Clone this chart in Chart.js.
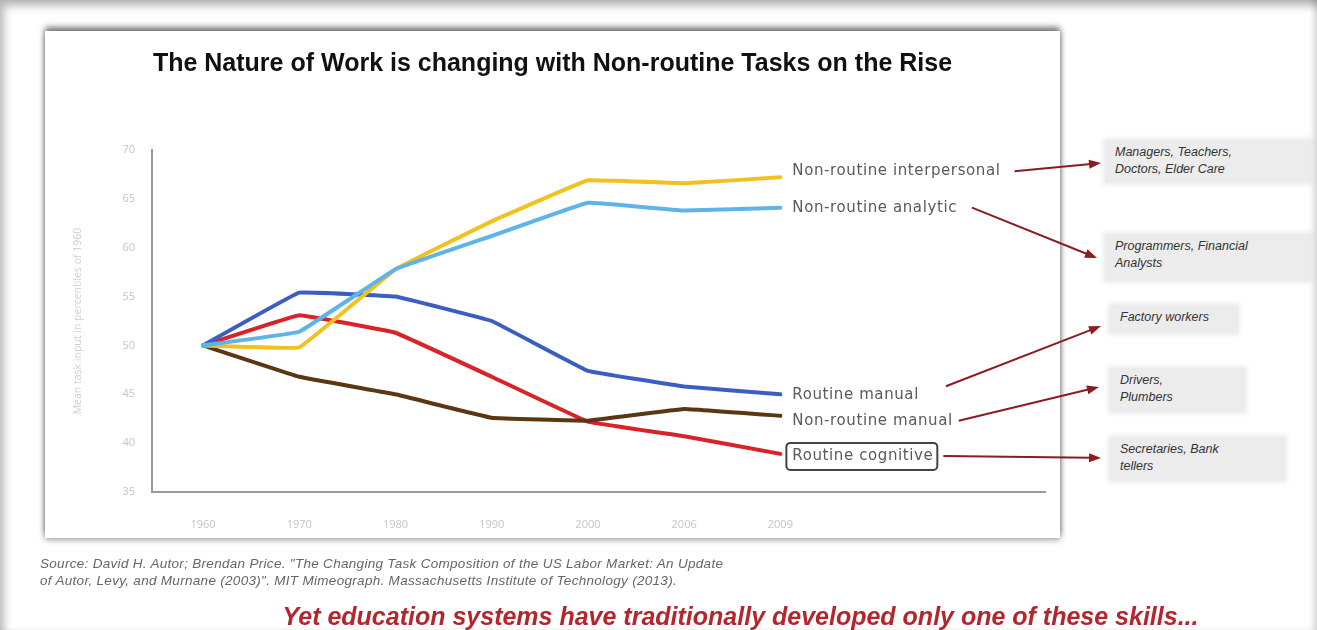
<!DOCTYPE html>
<html>
<head>
<meta charset="utf-8">
<script src="https://cdn.jsdelivr.net/npm/chart.js@4.4.0/dist/chart.umd.min.js"></script>
<style>
  html, body { margin: 0; padding: 0; background: #fff; }
  #page { position: relative; width: 1317px; height: 630px; overflow: hidden; background: #fff; }
  #frame { position: absolute; left: 0; top: 0; right: 0; bottom: 0; box-shadow: inset 6px 8px 8px -2px rgba(0,0,0,0.28), inset -5px 0 6px -2px rgba(0,0,0,0.18); z-index: 5; pointer-events: none; }
  #card { position: absolute; left: 45px; top: 31px; width: 1015px; height: 507px; background: #fff; box-shadow: 0 -4px 6px rgba(0,0,0,0.5), 0 2px 6px rgba(0,0,0,0.35); }
  #chart { position: absolute; left: 0; top: 0; z-index: 2; }
  .title { position: absolute; left: 45px; width: 1015px; top: 48px; text-align: center; z-index: 3;
    font: bold 25px "Liberation Sans", Arial, sans-serif; color: #111; }
  .job { position: absolute; background: #ececec; box-shadow: 0 0 5px 2px #ececec; z-index: 1;
    font: italic 12.5px "Liberation Sans", Arial, sans-serif; color: #333; line-height: 17px; padding: 4px 10px; box-sizing: border-box; }
  .source { position: absolute; left: 40px; top: 555px; z-index: 3;
    font: italic 13.5px "Liberation Sans", Arial, sans-serif; color: #666; line-height: 17px; letter-spacing: 0.3px; }
  .tagline { position: absolute; width: 1317px; text-align: center; left: 82px; top: 602px; z-index: 3;
    font: bold italic 25px "Liberation Sans", Arial, sans-serif; color: #b3262d; }
</style>
</head>
<body>
<div id="page">
  <div id="card"></div>
  <div class="title">The Nature of Work is changing with Non-routine Tasks on the Rise</div>
  <div class="job" style="left:1105px; top:140px; width:205px; height:43px;">Managers, Teachers,<br>Doctors, Elder Care</div>
  <div class="job" style="left:1105px; top:234px; width:205px; height:47px;">Programmers, Financial<br>Analysts</div>
  <div class="job" style="left:1110px; top:305px; width:128px; height:28px;">Factory workers</div>
  <div class="job" style="left:1110px; top:368px; width:135px; height:44px;">Drivers,<br>Plumbers</div>
  <div class="job" style="left:1110px; top:437px; width:175px; height:44px;">Secretaries, Bank<br>tellers</div>
  <canvas id="chart" width="1317" height="630"></canvas>
  <div class="source">Source: David H. Autor; Brendan Price. "The Changing Task Composition of the US Labor Market: An Update<br>of Autor, Levy, and Murnane (2003)". MIT Mimeograph. Massachusetts Institute of Technology (2013).</div>
  <div class="tagline">Yet education systems have traditionally developed only one of these skills...</div>
  <div id="frame"></div>
</div>
<script>
const years = ['1960', '1970', '1980', '1990', '2000', '2006', '2009'];
const yTicks = [35, 40, 45, 50, 55, 60, 65, 70];

const nonRoutineAnalytic = [50, 51.4, 57.8, 61.2, 64.6, 63.8, 64.1];
const nonRoutineInterpersonal = [50, 49.8, 57.8, 62.7, 66.9, 66.6, 67.2];
const routineManual = [50, 55.4, 55.0, 52.5, 47.4, 45.8, 45.0];
const nonRoutineManual = [50, 46.8, 45.0, 42.6, 42.3, 43.5, 42.8];
const routineCognitive = [50, 53.1, 51.3, 46.8, 42.2, 40.7, 38.9];

const toPoints = arr => arr.map((v, i) => ({ x: i, y: v }));

// label nudges (px), gap before each arrow and arrow targets at the job boxes
const labelNudge = [0, -6, 1, 5, 2];
const arrowGap = [15, 14, 27, 6, 10];
const arrowTargets = [
  { dy: 0, x: 1097, y: 258 },
  { dy: 0, x: 1101, y: 163 },
  { dy: -9, x: 1101, y: 326 },
  { dy: 0, x: 1099, y: 387 },
  { dy: 0, x: 1101, y: 458 }
];

const endLabels = {
  id: 'endLabels',
  afterDatasetsDraw(chart) {
    const ctx = chart.ctx;
    ctx.save();
    ctx.font = '15px "DejaVu Sans", sans-serif';
    ctx.letterSpacing = '0.6px';
    ctx.textBaseline = 'middle';
    chart.data.datasets.forEach((ds, i) => {
      const meta = chart.getDatasetMeta(i);
      const pt = meta.data[meta.data.length - 1];
      const x = pt.x + 12;
      const y = pt.y + labelNudge[i];
      const w = ctx.measureText(ds.label).width;
      ctx.fillStyle = '#5a5a5a';
      ctx.fillText(ds.label, x, y);
      if (ds.boxed) {
        ctx.strokeStyle = '#444';
        ctx.lineWidth = 2;
        ctx.beginPath();
        ctx.roundRect(x - 6, y - 13, w + 10, 27, 4);
        ctx.stroke();
      }
      // arrow to the job box
      const t = arrowTargets[i];
      const sx = x + w + arrowGap[i];
      const sy = y + t.dy;
      const ang = Math.atan2(t.y - sy, t.x - sx);
      ctx.strokeStyle = '#8a1c22';
      ctx.fillStyle = '#8a1c22';
      ctx.lineWidth = 2;
      ctx.beginPath();
      ctx.moveTo(sx, sy);
      ctx.lineTo(t.x - 10 * Math.cos(ang), t.y - 10 * Math.sin(ang));
      ctx.stroke();
      ctx.beginPath();
      ctx.moveTo(t.x, t.y);
      ctx.lineTo(t.x - 12 * Math.cos(ang) + 4.5 * Math.sin(ang), t.y - 12 * Math.sin(ang) - 4.5 * Math.cos(ang));
      ctx.lineTo(t.x - 12 * Math.cos(ang) - 4.5 * Math.sin(ang), t.y - 12 * Math.sin(ang) + 4.5 * Math.cos(ang));
      ctx.closePath();
      ctx.fill();
    });
    ctx.restore();
  }
};

const ctx = document.getElementById('chart').getContext('2d');
const workChart = new Chart(ctx, {
  type: 'line',
  data: {
    datasets: [{
      label: 'Non-routine analytic',
      data: toPoints(nonRoutineAnalytic),
      borderColor: '#5db4ea'
    }, {
      label: 'Non-routine interpersonal',
      data: toPoints(nonRoutineInterpersonal),
      borderColor: '#f1c21f'
    }, {
      label: 'Routine manual',
      data: toPoints(routineManual),
      borderColor: '#3b5fc0'
    }, {
      label: 'Non-routine manual',
      data: toPoints(nonRoutineManual),
      borderColor: '#5b3612'
    }, {
      label: 'Routine cognitive',
      data: toPoints(routineCognitive),
      borderColor: '#d8232a',
      boxed: true
    }]
  },
  options: {
    responsive: false,
    animation: false,
    layout: {
      padding: { left: 72, right: 272, top: 150, bottom: 93 }
    },
    elements: {
      line: { borderWidth: 4, tension: 0.05, borderJoinStyle: 'round', borderCapStyle: 'round' },
      point: { radius: 0 }
    },
    plugins: {
      legend: { display: false },
      tooltip: { enabled: false }
    },
    scales: {
      x: {
        type: 'linear',
        min: -0.53,
        max: 8.75,
        afterFit(scale) { scale.height = 45; },
        afterBuildTicks(scale) { scale.ticks = years.map((y, i) => ({ value: i })); },
        grid: { display: false },
        border: { display: true, color: '#9a9a9a', width: 2 },
        ticks: {
          color: '#c4c4c4',
          padding: 18,
          font: { size: 11, family: 'Open Sans' },
          callback: v => years[v]
        }
      },
      y: {
        min: 35,
        max: 70,
        afterFit(scale) { scale.width = 80; },
        afterBuildTicks(scale) { scale.ticks = yTicks.map(v => ({ value: v })); },
        grid: { display: false },
        border: { display: true, color: '#9a9a9a', width: 2 },
        title: {
          display: true,
          text: 'Mean task input in percentiles of 1960',
          color: '#cfcfcf',
          font: { size: 10.5, family: 'Open Sans' },
          padding: { top: 0, bottom: 0 }
        },
        ticks: {
          color: '#c4c4c4',
          padding: 9,
          font: { size: 11, family: 'Open Sans' }
        }
      }
    }
  },
  plugins: [endLabels]
});
</script>
</body>
</html>
